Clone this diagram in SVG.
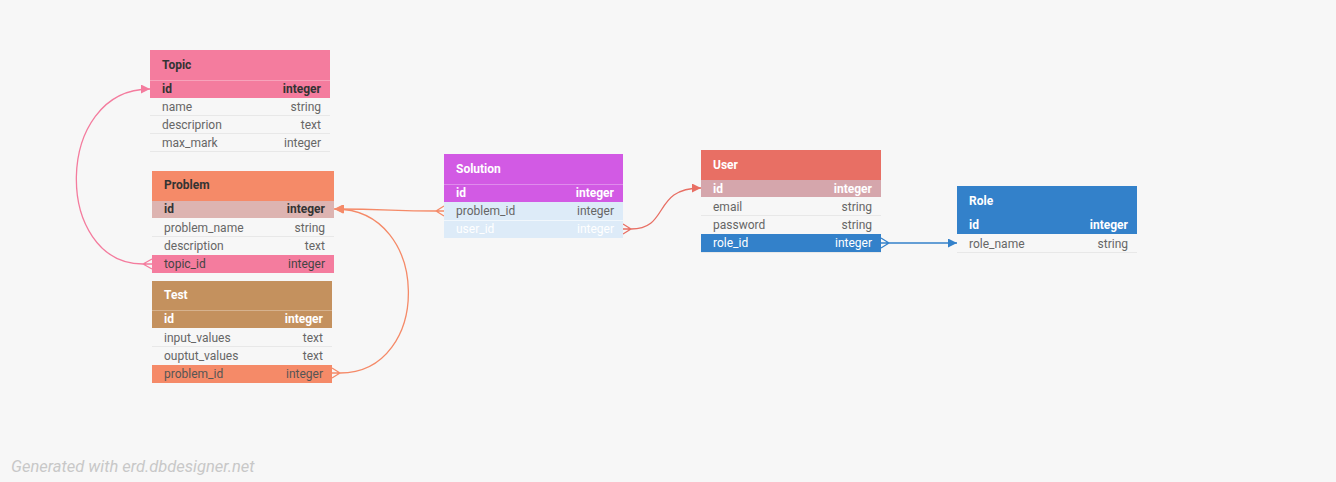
<svg xmlns="http://www.w3.org/2000/svg" width="1336" height="482" viewBox="0 0 1336 482">
<defs>
<style>
text{font-family:Roboto,"Liberation Sans",sans-serif;font-size:12px}
.t{font-weight:bold;fill:#333}
.tw{font-weight:bold;fill:#fff}
.r{fill:#666}
.b{font-weight:bold;fill:#333}
.bw{font-weight:bold;fill:#fff}
.e{text-anchor:end}
.sep{stroke:#e8e8e8;stroke-width:1}
.hs{stroke:#fff;stroke-opacity:0.3;stroke-width:1}
.c{fill:none;stroke-width:1.3}
</style>
<marker id="ap" viewBox="0 0 10 10" refX="10" refY="5" markerWidth="9" markerHeight="9" markerUnits="userSpaceOnUse" orient="auto"><path d="M0,0 L10,5 L0,10 Z" fill="#f47c9e"/></marker>
<marker id="as" viewBox="0 0 10 10" refX="10" refY="5" markerWidth="9" markerHeight="9" markerUnits="userSpaceOnUse" orient="auto"><path d="M0,0 L10,5 L0,10 Z" fill="#f58a68"/></marker>
<marker id="ar" viewBox="0 0 10 10" refX="10" refY="5" markerWidth="9" markerHeight="9" markerUnits="userSpaceOnUse" orient="auto"><path d="M0,0 L10,5 L0,10 Z" fill="#e86f64"/></marker>
<marker id="ab" viewBox="0 0 10 10" refX="10" refY="5" markerWidth="9" markerHeight="9" markerUnits="userSpaceOnUse" orient="auto"><path d="M0,0 L10,5 L0,10 Z" fill="#3381ca"/></marker>
</defs>
<rect width="1336" height="482" fill="#f7f7f7"/>

<g id="connectors">
<path class="c" stroke="#f47c9e" d="M143,264 C53,264 53,89 150,89" marker-end="url(#ap)"/>
<path class="c" stroke="#f47c9e" d="M143,264 L152,259 M143,264 L152,264 M143,264 L152,269"/>
<path class="c" stroke="#f58a68" d="M436,211 C390,211 390,209 334,209" marker-end="url(#as)"/>
<path class="c" stroke="#f58a68" d="M436,211 L444,206 M436,211 L444,211 M436,211 L444,216"/>
<path class="c" stroke="#f58a68" d="M340,373 C432,373 432,209 335,209" marker-end="url(#as)"/>
<path class="c" stroke="#f58a68" d="M340,373 L332,368 M340,373 L332,373 M340,373 L332,378"/>
<path class="c" stroke="#e86f64" stroke-width="2" d="M631,229 C670,229 652,188 701,188" marker-end="url(#ar)"/>
<path class="c" stroke="#e86f64" d="M631,229 L623,224 M631,229 L623,229 M631,229 L623,234"/>
<path class="c" stroke="#3381ca" d="M889,243 L957,243" marker-end="url(#ab)"/>
<path class="c" stroke="#3381ca" d="M889,243 L881,238 M889,243 L881,243 M889,243 L881,248"/>
</g>

<g id="topic">
<rect x="150" y="50" width="180" height="48" fill="#f47c9e"/>
<line class="hs" x1="150" y1="80.5" x2="330" y2="80.5"/>
<text class="t" x="162" y="69">Topic</text>
<text class="b" x="162" y="93">id</text><text class="b e" x="321" y="93">integer</text>
<line class="sep" x1="150" y1="115.5" x2="330" y2="115.5"/>
<line class="sep" x1="150" y1="133.5" x2="330" y2="133.5"/>
<line class="sep" x1="150" y1="151.5" x2="330" y2="151.5"/>
<text class="r" x="162" y="111">name</text><text class="r e" x="321" y="111">string</text>
<text class="r" x="162" y="129">descriprion</text><text class="r e" x="321" y="129">text</text>
<text class="r" x="162" y="147">max_mark</text><text class="r e" x="321" y="147">integer</text>
</g>

<g id="problem">
<rect x="152" y="171" width="182" height="30" fill="#f58a68"/>
<rect x="152" y="201" width="182" height="17" fill="#ddb4b1"/>
<text class="t" x="164" y="189">Problem</text>
<text class="b" x="164" y="213">id</text><text class="b e" x="325" y="213">integer</text>
<line class="sep" x1="152" y1="236.5" x2="334" y2="236.5"/>
<text class="r" x="164" y="232">problem_name</text><text class="r e" x="325" y="232">string</text>
<text class="r" x="164" y="250">description</text><text class="r e" x="325" y="250">text</text>
<rect x="152" y="255" width="182" height="18" fill="#f47c9e"/>
<text x="164" y="268" fill="#444">topic_id</text><text class="e" x="325" y="268" fill="#444">integer</text>
</g>

<g id="test">
<rect x="152" y="281" width="180" height="47" fill="#c4915e"/>
<line class="hs" x1="152" y1="310.5" x2="332" y2="310.5"/>
<text class="tw" x="164" y="299">Test</text>
<text class="bw" x="164" y="323">id</text><text class="bw e" x="323" y="323">integer</text>
<line class="sep" x1="152" y1="346.5" x2="332" y2="346.5"/>
<text class="r" x="164" y="342">input_values</text><text class="r e" x="323" y="342">text</text>
<text class="r" x="164" y="360">ouptut_values</text><text class="r e" x="323" y="360">text</text>
<rect x="152" y="365" width="180" height="18" fill="#f58a68"/>
<text x="164" y="378" fill="#555">problem_id</text><text class="e" x="323" y="378" fill="#555">integer</text>
</g>

<g id="solution">
<rect x="444" y="154" width="179" height="48" fill="#d25ae4"/>
<line class="hs" x1="444" y1="184.5" x2="623" y2="184.5"/>
<text class="tw" x="456" y="173">Solution</text>
<text class="bw" x="456" y="197">id</text><text class="bw e" x="614" y="197">integer</text>
<rect x="444" y="202" width="179" height="36" fill="#ddebf8"/>
<line x1="444" y1="220.5" x2="623" y2="220.5" stroke="#fff" stroke-opacity="0.6"/>
<text class="r" x="456" y="215">problem_id</text><text class="r e" x="614" y="215">integer</text>
<text x="456" y="233" fill="#fff">user_id</text><text class="e" x="614" y="233" fill="#fff">integer</text>
</g>

<g id="user">
<rect x="701" y="150" width="180" height="30" fill="#e86f64"/>
<rect x="701" y="180" width="180" height="17" fill="#d5a6ac"/>
<text class="tw" x="713" y="169">User</text>
<text class="bw" x="713" y="193">id</text><text class="bw e" x="872" y="193">integer</text>
<line class="sep" x1="701" y1="215.5" x2="881" y2="215.5"/>
<line class="sep" x1="701" y1="252.5" x2="881" y2="252.5"/>
<text class="r" x="713" y="211">email</text><text class="r e" x="872" y="211">string</text>
<text class="r" x="713" y="229">password</text><text class="r e" x="872" y="229">string</text>
<rect x="701" y="234" width="180" height="18" fill="#3381ca"/>
<text x="713" y="247" fill="#fff">role_id</text><text class="e" x="872" y="247" fill="#fff">integer</text>
</g>

<g id="role">
<rect x="957" y="186" width="180" height="48" fill="#3381ca"/>
<text class="tw" x="969" y="205">Role</text>
<text class="bw" x="969" y="229">id</text><text class="bw e" x="1128" y="229">integer</text>
<line class="sep" x1="957" y1="252.5" x2="1137" y2="252.5"/>
<text class="r" x="969" y="248">role_name</text><text class="r e" x="1128" y="248">string</text>
</g>

<text x="11" y="472" font-style="italic" fill="#c8c8c8" style="font-size:16.5px">Generated with erd.dbdesigner.net</text>
</svg>
